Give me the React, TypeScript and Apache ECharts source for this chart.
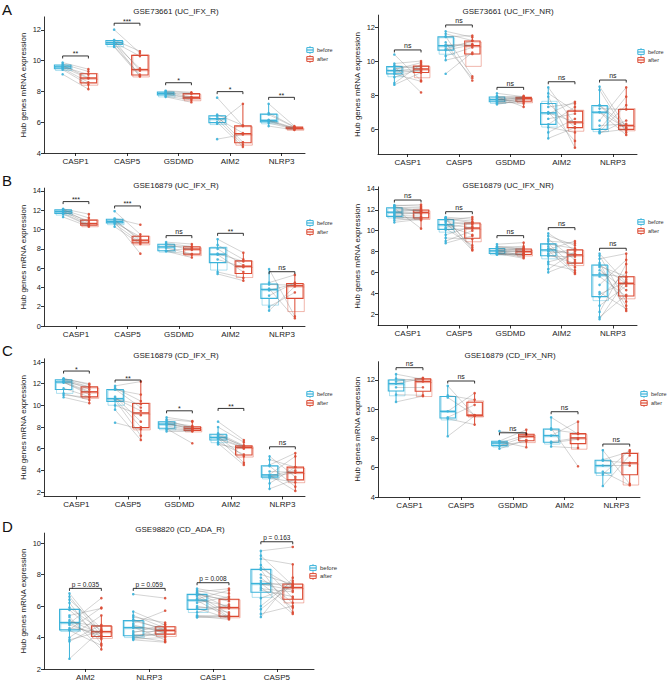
import React, { useEffect, useRef } from "react";
import * as echarts from "echarts";

// ---------------- data ----------------
const GENES_1 = ["CASP1", "CASP5", "GSDMD", "AIM2", "NLRP3"];
const GENES_2 = ["AIM2", "NLRP3", "CASP1", "CASP5"];
const GROUP_NAMES = ["before", "after"];
const PANEL_TAGS = ["A", "B", "C", "D"];
const TITLES = [
  "GSE73661 (UC_IFX_R)",
  "GSE73661 (UC_IFX_NR)",
  "GSE16879 (UC_IFX_R)",
  "GSE16879 (UC_IFX_NR)",
  "GSE16879 (CD_IFX_R)",
  "GSE16879 (CD_IFX_NR)",
  "GSE98820 (CD_ADA_R)",
];
const Y_NAME = "Hub genes mRNA expression";

const TICKS_A1 = [4, 6, 8, 10, 12];
const TICKS_A2 = [6, 8, 10, 12];
const TICKS_B1 = [0, 2, 4, 6, 8, 10, 12, 14];
const TICKS_B2 = [2, 4, 6, 8, 10, 12, 14];
const TICKS_C1 = [2, 4, 6, 8, 10, 12, 14];
const TICKS_C2 = [4, 6, 8, 10, 12];
const TICKS_D = [2, 4, 6, 8, 10];

// A left: GSE73661 UC_IFX_R (paired by index)
const A1_BEFORE = [
  [9.88, 9.78, 9.7, 9.62, 9.58, 9.5, 9.42, 9.12],
  [12.02, 11.35, 11.3, 11.2, 11.15, 11.1, 10.95, 10.9],
  [8.05, 8.0, 7.95, 7.9, 7.85, 7.8, 7.7, 7.65],
  [7.6, 6.5, 6.4, 6.25, 6.2, 6.0, 5.9, 4.9],
  [7.2, 6.6, 6.5, 6.15, 6.1, 6.05, 5.95, 5.75],
];
const A1_AFTER = [
  [9.45, 9.3, 8.9, 9.1, 8.85, 8.6, 8.45, 8.15],
  [10.5, 10.62, 9.35, 10.3, 9.0, 9.5, 9.1, 8.98],
  [7.95, 7.9, 7.65, 7.85, 7.6, 7.55, 7.45, 7.3],
  [5.75, 5.8, 4.7, 5.3, 4.55, 4.4, 7.2, 5.2],
  [5.75, 5.7, 5.68, 5.63, 5.6, 5.58, 5.55, 5.5],
];
const A1_SIG = ["**", "***", "*", "*", "**"];
const A1_SIG_Y = [10.31, 12.44, 8.57, 7.99, 7.62];

// A right: GSE73661 UC_IFX_NR
const A2_BEFORE = [
  [10.38, 9.85, 9.75, 9.67, 9.55, 9.5, 9.44, 9.4, 9.3, 9.24, 9.05, 8.7, 8.6],
  [11.75, 11.6, 11.45, 11.42, 11.1, 10.95, 10.9, 10.85, 10.7, 10.64, 10.3, 10.05, 9.25],
  [8.1, 7.95, 7.9, 7.88, 7.8, 7.75, 7.73, 7.7, 7.65, 7.6, 7.55, 7.5, 7.45],
  [8.45, 8.1, 7.9, 7.5, 7.3, 7.0, 6.95, 6.9, 6.6, 6.27, 6.1, 5.8, 5.45],
  [8.5, 8.3, 7.4, 7.38, 7.2, 7.0, 6.99, 6.5, 6.2, 5.98, 5.85, 5.8, 5.75],
];
const A2_AFTER = [
  [8.85, 10.0, 9.55, 8.15, 9.7, 9.9, 9.4, 9.6, 9.45, 8.8, 9.53, 9.8, 9.32],
  [11.4, 11.2, 9.1, 11.5, 8.85, 11.0, 10.9, 9.0, 11.18, 10.95, 10.8, 10.41, 10.5],
  [7.9, 7.95, 7.3, 7.88, 7.82, 7.6, 7.8, 7.86, 7.75, 7.5, 7.79, 7.63, 7.7],
  [6.3, 7.05, 4.9, 6.1, 7.5, 5.3, 6.41, 7.6, 6.9, 7.3, 5.8, 6.6, 6.08],
  [6.1, 5.8, 6.21, 5.95, 7.15, 6.05, 5.65, 8.45, 6.3, 7.9, 7.4, 5.98, 6.5],
];
const A2_SIG = ["ns", "ns", "ns", "ns", "ns"];
const A2_SIG_Y = [10.65, 12.12, 8.45, 8.78, 8.88];

// B left: GSE16879 UC_IFX_R
const B1_BEFORE = [
  [12.15, 12.1, 12.05, 11.9, 11.85, 11.7, 11.6, 11.3],
  [11.9, 11.15, 11.05, 10.92, 10.8, 10.72, 10.6, 10.3],
  [8.7, 8.55, 8.45, 8.3, 8.1, 7.82, 7.78, 7.75],
  [9.0, 8.4, 8.0, 7.5, 7.4, 6.9, 5.6, 5.4],
  [5.9, 4.5, 4.3, 3.88, 3.7, 3.15, 2.0, 1.6],
];
const B1_AFTER = [
  [11.6, 10.7, 11.2, 10.55, 10.9, 10.47, 10.4, 10.3],
  [9.5, 10.5, 8.8, 9.0, 7.5, 9.25, 8.66, 8.5],
  [8.5, 8.25, 7.9, 8.2, 7.47, 8.05, 7.4, 7.1],
  [7.6, 6.9, 6.3, 6.7, 5.6, 6.1, 5.0, 4.7],
  [1.0, 5.3, 4.24, 0.8, 4.38, 4.5, 3.48, 4.1],
];
const B1_SIG = ["***", "***", "ns", "**", "ns"];
const B1_SIG_Y = [12.9, 12.45, 9.37, 9.61, 5.63];

// B right: GSE16879 UC_IFX_NR
const B2_BEFORE = [
  [12.45, 12.4, 12.3, 12.25, 12.22, 12.15, 12.0, 11.9, 11.8, 11.75, 11.65, 11.55, 11.45, 11.35, 11.3, 11.2, 11.0, 10.8],
  [11.3, 11.25, 11.2, 11.15, 11.1, 11.0, 10.9, 10.8, 10.6, 10.55, 10.5, 10.3, 10.2, 10.1, 9.6, 9.3, 9.0, 8.8],
  [8.7, 8.5, 8.45, 8.4, 8.32, 8.2, 8.15, 8.1, 8.07, 8.05, 7.95, 7.9, 7.85, 7.8, 7.8, 7.78, 7.75, 7.7],
  [9.75, 9.5, 9.2, 9.0, 8.75, 8.7, 8.5, 8.3, 8.2, 8.1, 8.0, 7.8, 7.7, 7.55, 7.0, 6.8, 6.3, 6.0],
  [7.8, 7.6, 7.3, 6.9, 6.75, 6.6, 6.5, 6.2, 5.9, 5.6, 4.8, 4.1, 3.9, 3.6, 2.8, 2.2, 1.7, 1.5],
];
const B2_AFTER = [
  [12.35, 12.5, 11.9, 12.2, 11.85, 10.2, 12.1, 11.95, 12.0, 11.6, 11.8, 11.7, 11.4, 11.15, 11.3, 11.0, 11.2, 11.1],
  [11.1, 8.2, 10.9, 10.75, 8.4, 11.3, 10.6, 8.1, 10.8, 10.3, 9.6, 10.7, 8.6, 10.2, 10.4, 9.2, 10.0, 9.5],
  [8.85, 8.3, 8.2, 8.5, 8.1, 7.95, 8.35, 7.6, 8.25, 8.05, 7.45, 8.15, 7.8, 7.35, 7.85, 7.75, 7.7, 7.65],
  [8.1, 8.6, 7.2, 8.8, 6.5, 8.3, 6.0, 7.7, 9.0, 5.85, 7.8, 8.2, 6.85, 7.5, 7.65, 6.2, 8.0, 7.0],
  [5.0, 3.2, 7.8, 2.3, 4.9, 5.6, 2.8, 4.3, 5.5, 3.7, 7.2, 2.5, 5.1, 6.0, 4.7, 6.8, 3.85, 5.3],
];
const B2_SIG = ["ns", "ns", "ns", "ns", "ns"];
const B2_SIG_Y = [12.94, 11.82, 9.52, 10.29, 8.31];

// C left: GSE16879 CD_IFX_R
const C1_BEFORE = [
  [12.5, 12.45, 12.4, 12.35, 12.2, 12.17, 12.15, 12.1, 11.58, 11.1, 10.95, 10.75],
  [11.8, 11.6, 11.5, 11.45, 10.8, 10.65, 10.6, 10.55, 10.5, 10.0, 9.6, 8.4],
  [8.9, 8.7, 8.6, 8.45, 8.35, 8.3, 8.25, 8.1, 7.9, 7.85, 7.75, 7.6],
  [8.5, 8.0, 7.42, 7.3, 7.2, 7.1, 7.0, 6.95, 6.88, 6.6, 6.5, 6.4],
  [5.3, 5.0, 4.5, 4.4, 3.9, 3.62, 3.55, 3.5, 3.4, 3.3, 2.8, 2.3],
];
const C1_AFTER = [
  [11.9, 12.0, 11.72, 11.5, 11.7, 11.3, 11.0, 11.2, 10.8, 10.5, 10.75, 10.2],
  [12.2, 10.4, 9.8, 11.0, 8.5, 9.5, 8.0, 10.1, 7.2, 9.1, 6.8, 7.8],
  [8.55, 8.5, 7.95, 8.1, 7.8, 8.0, 7.9, 7.75, 7.7, 6.5, 7.65, 7.6],
  [6.8, 6.6, 6.3, 6.2, 6.25, 5.3, 6.15, 4.7, 6.1, 5.47, 4.5, 6.0],
  [3.4, 4.3, 5.6, 2.5, 3.82, 5.3, 2.1, 4.0, 3.8, 2.9, 4.3, 3.2],
];
const C1_SIG = ["*", "**", "*", "**", "ns"];
const C1_SIG_Y = [13.17, 12.34, 9.5, 9.72, 6.18];

// C right: GSE16879 CD_IFX_NR
const C2_BEFORE = [
  [12.4, 12.1, 11.9, 11.75, 11.5, 11.0, 10.5],
  [11.6, 10.95, 10.8, 9.86, 9.45, 9.35, 8.15],
  [8.5, 7.82, 7.8, 7.69, 7.52, 7.5, 7.3],
  [9.45, 8.7, 8.6, 8.2, 7.78, 7.7, 7.45],
  [7.2, 6.55, 6.48, 6.15, 5.73, 5.55, 4.75],
];
const C2_AFTER = [
  [12.05, 11.9, 12.15, 12.1, 11.5, 10.95, 10.9],
  [9.56, 10.65, 9.6, 11.1, 10.3, 8.95, 9.55],
  [8.32, 8.6, 7.4, 8.25, 7.8, 8.15, 7.9],
  [8.3, 6.1, 8.36, 9.15, 8.04, 7.95, 7.35],
  [4.9, 7.1, 6.33, 6.15, 4.8, 7.2, 6.85],
];
const C2_SIG = ["ns", "ns", "ns", "ns", "ns"];
const C2_SIG_Y = [12.84, 11.93, 8.39, 9.83, 7.62];

// D: GSE98820 CD_ADA_R
const D_BEFORE = [
  [6.8, 6.6, 6.4, 6.2, 5.9, 5.75, 5.4, 5.3, 5.1, 4.97, 4.93, 4.9, 4.8, 4.6, 4.5, 4.45, 4.0, 3.85, 3.75, 2.65],
  [6.75, 5.65, 5.4, 5.3, 5.15, 5.05, 4.9, 4.8, 4.7, 4.66, 4.6, 4.4, 4.3, 4.2, 4.13, 4.05, 4.0, 3.95, 3.9, 3.85],
  [7.1, 7.0, 6.9, 6.85, 6.8, 6.72, 6.7, 6.6, 6.45, 6.4, 6.35, 6.2, 6.0, 5.9, 5.85, 5.6, 5.4, 5.35, 5.3, 5.28],
  [9.5, 9.2, 9.0, 8.6, 8.4, 8.3, 8.0, 7.8, 7.6, 7.45, 7.4, 7.35, 7.2, 7.1, 7.0, 6.5, 6.0, 5.8, 5.5, 5.3],
];
const D_AFTER = [
  [4.3, 4.1, 4.6, 3.6, 4.45, 4.0, 5.85, 3.25, 4.2, 4.72, 3.9, 6.5, 4.08, 4.35, 5.9, 3.5, 5.4, 4.4, 4.8, 4.5],
  [6.5, 4.8, 4.6, 4.95, 4.45, 4.55, 5.7, 4.3, 4.5, 3.85, 4.47, 4.4, 4.85, 4.1, 4.25, 3.75, 4.65, 4.35, 4.0, 3.7],
  [6.8, 6.5, 7.1, 5.85, 6.3, 5.5, 6.4, 5.32, 7.0, 6.0, 5.25, 6.6, 5.6, 5.95, 5.2, 6.1, 5.35, 5.15, 5.4, 5.3],
  [9.75, 7.3, 8.65, 6.5, 7.2, 5.6, 7.38, 6.2, 7.15, 5.9, 7.0, 7.45, 5.5, 6.9, 6.6, 7.25, 7.6, 7.35, 6.0, 7.8],
];
const D_SIG = ["p = 0.035", "p = 0.059", "p = 0.008", "p = 0.163"];
const D_SIG_Y = [7.12, 7.12, 7.48, 10.08];

// ---------------- helpers ----------------
const FONT = '"Liberation Sans", Arial, Helvetica, sans-serif';
const COLORS = ["#3BB3DA", "#DC4A33"];

function q7(s: number[], p: number) {
  const h = (s.length - 1) * p;
  const lo = Math.floor(h);
  const hi = Math.min(lo + 1, s.length - 1);
  return s[lo] + (h - lo) * (s[hi] - s[lo]);
}
function q6(s: number[], p: number) {
  const n = s.length;
  let h = (n + 1) * p;
  if (h < 1) h = 1;
  if (h > n) h = n;
  const lo = Math.floor(h);
  const hi = Math.min(lo + 1, n);
  return s[lo - 1] + (h - lo) * (s[hi - 1] - s[lo - 1]);
}
function boxStats(vals: number[]) {
  const s = [...vals].sort((a, b) => a - b);
  const q1 = q7(s, 0.25), med = q7(s, 0.5), q3 = q7(s, 0.75);
  const iqr = q3 - q1;
  const inside = s.filter((v) => v >= q1 - 1.5 * iqr && v <= q3 + 1.5 * iqr);
  return {
    q1, med, q3,
    lo: inside[0], hi: inside[inside.length - 1],
    q1b: q6(s, 0.25), medb: q6(s, 0.5), q3b: q6(s, 0.75),
  };
}

export default function App() {
  const ref = useRef<HTMLDivElement>(null);

  useEffect(() => {
    if (!ref.current) return;
    const chart = echarts.init(ref.current, null, { renderer: "svg" });

    const panels = [
      { cats: GENES_1, before: A1_BEFORE, after: A1_AFTER, sig: A1_SIG, sigY: A1_SIG_Y, ticks: TICKS_A1 },
      { cats: GENES_1, before: A2_BEFORE, after: A2_AFTER, sig: A2_SIG, sigY: A2_SIG_Y, ticks: TICKS_A2 },
      { cats: GENES_1, before: B1_BEFORE, after: B1_AFTER, sig: B1_SIG, sigY: B1_SIG_Y, ticks: TICKS_B1 },
      { cats: GENES_1, before: B2_BEFORE, after: B2_AFTER, sig: B2_SIG, sigY: B2_SIG_Y, ticks: TICKS_B2 },
      { cats: GENES_1, before: C1_BEFORE, after: C1_AFTER, sig: C1_SIG, sigY: C1_SIG_Y, ticks: TICKS_C1 },
      { cats: GENES_1, before: C2_BEFORE, after: C2_AFTER, sig: C2_SIG, sigY: C2_SIG_Y, ticks: TICKS_C2 },
      { cats: GENES_2, before: D_BEFORE, after: D_AFTER, sig: D_SIG, sigY: D_SIG_Y, ticks: TICKS_D },
    ];

    const layout = [
      { left: 44, top: 16.9, width: 261, height: 136.1, xMin: 0.388, xMax: 5.456, yMin: 4, yMax: 12.85, off: 0.25, bw: 0.32, tx: 176, ty: 11, lx: 310, ly: [50, 59], tag: 0, tagY: 9 },
      { left: 378, top: 15.1, width: 259, height: 138.9, xMin: 0.421, xMax: 5.47, yMin: 4.53, yMax: 12.7, off: 0.26, bw: 0.3, tx: 508, ty: 11, lx: 641, ly: [52, 60] },
      { left: 44, top: 188.1, width: 261, height: 137.9, xMin: 0.379, xMax: 5.447, yMin: 0, yMax: 14.3, off: 0.25, bw: 0.32, tx: 176, ty: 185, lx: 310, ly: [223, 232], tag: 1, tagY: 180 },
      { left: 378, top: 186.9, width: 259, height: 138.6, xMin: 0.421, xMax: 5.47, yMin: 0.9, yMax: 14.2, off: 0.26, bw: 0.3, tx: 508, ty: 185, lx: 641, ly: [222, 231] },
      { left: 44, top: 358.8, width: 261, height: 137.6, xMin: 0.37, xMax: 5.438, yMin: 1.6, yMax: 14.3, off: 0.25, bw: 0.32, tx: 176, ty: 355, lx: 310, ly: [394, 403], tag: 2, tagY: 350 },
      { left: 378, top: 361.7, width: 262, height: 135.3, xMin: 0.391, xMax: 5.459, yMin: 4, yMax: 13.25, off: 0.26, bw: 0.3, tx: 510, ty: 355, lx: 644, ly: [394, 403] },
      { left: 44, top: 533.1, width: 270, height: 135.9, xMin: 0.351, xMax: 4.583, yMin: 2, yMax: 10.63, off: 0.25, bw: 0.31, tx: 180, ty: 529, lx: 313, ly: [568, 576], tag: 3, tagY: 526 },
    ];

    const grids: any[] = [];
    const xAxes: any[] = [];
    const yAxes: any[] = [];
    const series: any[] = [];
    const graphics: any[] = [];
    const axisLineStyle = { color: "#000", width: 0.8 };

    panels.forEach((p, k) => {
      const L: any = layout[k];
      grids.push({ left: L.left, top: L.top, width: L.width, height: L.height, containLabel: false });
      const catPos = p.cats.map((_, i) => i + 1);
      xAxes.push({
        type: "value", gridIndex: k, min: L.xMin, max: L.xMax,
        axisLine: { show: true, onZero: false, lineStyle: axisLineStyle },
        axisTick: { show: true, customValues: catPos, length: 3, lineStyle: axisLineStyle },
        axisLabel: {
          customValues: catPos, fontSize: 8, color: "#222", margin: 4, fontFamily: FONT,
          formatter: (v: number) => p.cats[Math.round(v) - 1] ?? "",
        },
        splitLine: { show: false },
      });
      yAxes.push({
        type: "value", gridIndex: k, min: L.yMin, max: L.yMax,
        name: Y_NAME, nameLocation: "middle", nameGap: 17,
        nameTextStyle: { fontSize: 8, color: "#222", fontFamily: FONT },
        axisLine: { show: true, onZero: false, lineStyle: axisLineStyle },
        axisTick: { show: true, customValues: p.ticks, length: 3, lineStyle: axisLineStyle },
        axisLabel: { customValues: p.ticks, fontSize: 7.5, color: "#222", margin: 3, fontFamily: FONT },
        splitLine: { show: false },
      });

      // box statistics
      const boxData: number[][] = [];
      p.cats.forEach((_, i) => {
        [p.before[i], p.after[i]].forEach((vals, g) => {
          const st = boxStats(vals);
          const x = i + 1 + (g === 0 ? -L.off : L.off);
          boxData.push([x, st.q1, st.med, st.q3, st.lo, st.hi, st.q1b, st.medb, st.q3b, g]);
        });
      });
      const hw = L.bw / 2;
      series.push({
        type: "custom", name: "box" + k, xAxisIndex: k, yAxisIndex: k, z: 2,
        encode: { x: 0, y: [1, 2, 3, 4, 5] },
        data: boxData,
        renderItem: (params: any, api: any) => {
          const x = api.value(0);
          const g = api.value(9);
          const color = COLORS[g];
          const pLo = api.coord([x, api.value(4)]);
          const pHi = api.coord([x, api.value(5)]);
          const a = api.coord([x - hw, api.value(3)]);
          const b = api.coord([x + hw, api.value(1)]);
          const m = api.coord([x, api.value(2)]);
          const a2 = api.coord([x - hw, api.value(8)]);
          const b2 = api.coord([x + hw, api.value(6)]);
          const m2 = api.coord([x, api.value(7)]);
          const dx = 1.2;
          return {
            type: "group",
            children: [
              { type: "rect", shape: { x: a2[0] + dx, y: a2[1] + dx, width: b2[0] - a2[0], height: b2[1] - a2[1] }, style: { fill: "none", stroke: color, lineWidth: 1, opacity: 0.4 } },
              { type: "line", shape: { x1: a2[0] + dx, y1: m2[1] + dx, x2: b2[0] + dx, y2: m2[1] + dx }, style: { stroke: color, lineWidth: 1, opacity: 0.4 } },
              { type: "line", shape: { x1: pLo[0], y1: pLo[1], x2: pLo[0], y2: b[1] }, style: { stroke: color, lineWidth: 1 } },
              { type: "line", shape: { x1: pHi[0], y1: pHi[1], x2: pHi[0], y2: a[1] }, style: { stroke: color, lineWidth: 1 } },
              { type: "rect", shape: { x: a[0], y: a[1], width: b[0] - a[0], height: b[1] - a[1] }, style: { fill: "none", stroke: color, lineWidth: 1.1 } },
              { type: "line", shape: { x1: a[0], y1: m[1], x2: b[0], y2: m[1] }, style: { stroke: color, lineWidth: 1.5 } },
            ],
          };
        },
      });

      // paired lines
      const pairs: any[] = [];
      p.cats.forEach((_, i) => {
        p.before[i].forEach((bv, j) => {
          pairs.push({ coords: [[i + 1 - L.off, bv], [i + 1 + L.off, p.after[i][j]]] });
        });
      });
      series.push({
        type: "lines", coordinateSystem: "cartesian2d", xAxisIndex: k, yAxisIndex: k, z: 3,
        data: pairs, silent: true,
        lineStyle: { color: "#7a7a7a", width: 0.5, opacity: 0.65 },
      });

      // points
      [p.before, p.after].forEach((grp, g) => {
        const pts: number[][] = [];
        grp.forEach((vals, i) => {
          vals.forEach((v) => pts.push([i + 1 + (g === 0 ? -L.off : L.off), v]));
        });
        series.push({
          type: "scatter", name: GROUP_NAMES[g], xAxisIndex: k, yAxisIndex: k, z: 4,
          data: pts, symbol: "circle", symbolSize: 2.6,
          itemStyle: { color: COLORS[g], opacity: 0.9 },
        });
      });

      // significance brackets
      const brData = p.cats.map((_, i) => [i + 1, p.sigY[i]]);
      series.push({
        type: "custom", name: "sig" + k, xAxisIndex: k, yAxisIndex: k, z: 5,
        encode: { x: 0, y: 1 },
        data: brData,
        renderItem: (params: any, api: any) => {
          const c = api.value(0);
          const yv = api.value(1);
          const l = api.coord([c - L.off, yv]);
          const r = api.coord([c + L.off, yv]);
          const txt = p.sig[params.dataIndex];
          const isStar = txt.indexOf("*") >= 0;
          return {
            type: "group",
            children: [
              { type: "polyline", shape: { points: [[l[0], l[1] + 2.5], [l[0], l[1]], [r[0], r[1]], [r[0], r[1] + 2.5]] }, style: { stroke: "#000", lineWidth: 0.8, fill: "none" } },
              {
                type: "text", x: (l[0] + r[0]) / 2, y: l[1] - (isStar ? -1.5 : 0.8),
                style: { text: txt, fill: "#222", font: `${k === 6 ? 6.5 : 7}px ${FONT}`, textAlign: "center", textVerticalAlign: "bottom" },
              },
            ],
          };
        },
      });

      // title
      graphics.push({
        type: "text", x: L.tx, y: L.ty,
        style: { text: TITLES[k], fill: "#222", font: `8px ${FONT}`, textAlign: "center", textVerticalAlign: "middle" },
      });
      if (L.tag !== undefined) {
        graphics.push({
          type: "text", x: 2, y: L.tagY,
          style: { text: PANEL_TAGS[L.tag], fill: "#111", font: `15px ${FONT}`, textAlign: "left", textVerticalAlign: "middle" },
        });
      }
      // legend
      GROUP_NAMES.forEach((nm, g) => {
        const cx = L.lx;
        const cy = L.ly[g];
        const col = COLORS[g];
        graphics.push({ type: "line", shape: { x1: cx, y1: cy - 3.8, x2: cx, y2: cy + 3.8 }, style: { stroke: col, lineWidth: 1 } });
        graphics.push({ type: "rect", shape: { x: cx - 3.2, y: cy - 2.4, width: 6.4, height: 4.8 }, style: { fill: "#fff", stroke: col, lineWidth: 1 } });
        graphics.push({ type: "line", shape: { x1: cx - 3.2, y1: cy, x2: cx + 3.2, y2: cy }, style: { stroke: col, lineWidth: 1.2 } });
        graphics.push({
          type: "text", x: cx + 7, y: cy,
          style: { text: nm, fill: "#333", font: `${k === 6 ? 6 : 5.5}px ${FONT}`, textAlign: "left", textVerticalAlign: "middle" },
        });
      });
    });

    chart.setOption({
      animation: false,
      backgroundColor: "#fff",
      textStyle: { fontFamily: FONT },
      grid: grids,
      xAxis: xAxes,
      yAxis: yAxes,
      series,
      graphic: { elements: graphics },
    });

    return () => chart.dispose();
  }, []);

  return (
    <div
      ref={ref}
      style={{ position: "fixed", left: 0, top: 0, width: 669, height: 682, background: "#fff" }}
    />
  );
}
